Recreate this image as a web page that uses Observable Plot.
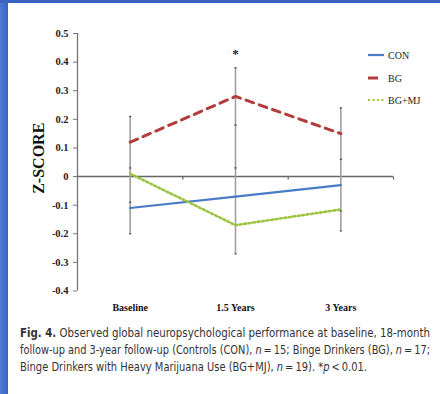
<!DOCTYPE html>
<html>
<head>
<meta charset="utf-8">
<script src="https://cdn.jsdelivr.net/npm/d3@7"></script>
<script src="https://cdn.jsdelivr.net/npm/@observablehq/plot@0.6"></script>
<style>
  html, body { margin: 0; padding: 0; background: #fff; width: 440px; height: 394px; overflow: hidden; }
  #wrap { position: relative; width: 440px; height: 394px; }
  .bar-left { position: absolute; left: 0; top: 0; width: 8px; height: 394px; background: linear-gradient(to right, #4d7bd2, #3962c2); z-index: 5; }
  .bar-top { position: absolute; left: 0; top: 0; width: 440px; height: 3px; background: #3a62c0; z-index: 5; }
  #legend { position: absolute; left: 366px; top: 48px; font-family: "Liberation Serif", "DejaVu Serif", serif; font-size: 10px; color: #222; }
  #legend .row { position: absolute; left: 0; height: 14px; display: flex; align-items: center; white-space: nowrap; }
  #legend svg { display: block; margin-right: 3px; }
  #caption { position: absolute; left: 20px; top: 325px; width: 410px; font-family: "DejaVu Sans Condensed", "DejaVu Sans", "Noto Sans", sans-serif; font-stretch: condensed; font-size: 12px; line-height: 17px; color: #333; }
  #caption .ln { white-space: nowrap; transform-origin: 0 50%; display: inline-block; }
  #caption .row { height: 17px; }
  #chart svg text { font-family: "Liberation Serif", "DejaVu Serif", serif; }
</style>
</head>
<body>
<div id="wrap">
  <div class="bar-left"></div>
  <div class="bar-top"></div>
  <div id="chart"></div>
  <div id="legend"></div>
  <div id="caption">
    <div class="row"><span class="ln" data-w="410"><b>Fig. 4.</b> Observed global neuropsychological performance at baseline, 18-month</span></div>
    <div class="row"><span class="ln" data-w="410">follow-up and 3-year follow-up (Controls (CON), <i>n</i>&#8201;=&#8201;15; Binge Drinkers (BG), <i>n</i>&#8201;=&#8201;17;</span></div>
    <div class="row"><span class="ln" data-w="347">Binge Drinkers with Heavy Marijuana Use (BG+MJ), <i>n</i>&#8201;=&#8201;19). *<i>p</i>&#8201;&lt;&#8201;0.01.</span></div>
  </div>
</div>
<script>
// ---- data ----
const categories = ["Baseline", "1.5 Years", "3 Years"];
const seriesNames = ["CON", "BG", "BG+MJ"];
const conValues = [-0.11, -0.07, -0.03];
const bgValues = [0.12, 0.28, 0.15];
const bgmjValues = [0.01, -0.17, -0.115];
const errTop = [0.21, 0.38, 0.24];
const errBottom = [-0.2, -0.27, -0.19];
const capValues = [
  [0.21, 0.03, -0.09, -0.2],
  [0.38, 0.18, 0.03, -0.27],
  [0.24, 0.06, -0.12, -0.19]
];
const yTicks = [0.5, 0.4, 0.3, 0.2, 0.1, 0, -0.1, -0.2, -0.3, -0.4];
const boundaryTicks = [0.5, 1.5, 2.5];
const significance = [{time: 1, value: 0.43, label: "*"}];
const colors = {"CON": "#4a7cc6", "BG": "#b33b3b", "BG+MJ": "#9cc43e"};

// ---- tables ----
const lineRows = [];
[conValues, bgValues, bgmjValues].forEach((vals, s) =>
  vals.forEach((v, i) => lineRows.push({series: seriesNames[s], time: i, value: v})));
const errRows = categories.map((c, i) => ({time: i, lo: errBottom[i], hi: errTop[i]}));
const capRows = capValues.flatMap((vals, i) => vals.map(v => ({time: i, value: v})));

const capSymbol = {draw(ctx, size) { const r = Math.sqrt(size) / 2; ctx.moveTo(-r, 0); ctx.lineTo(r, 0); }};
const downTick = {draw(ctx, size) { const r = Math.sqrt(size); ctx.moveTo(0, 0); ctx.lineTo(0, r); }};

const serif = '"Liberation Serif", "DejaVu Serif", serif';

const chart = Plot.plot({
  width: 440,
  height: 320,
  marginLeft: 77,
  marginRight: 47,
  marginTop: 33,
  marginBottom: 29.5,
  style: {fontFamily: serif, background: "transparent", overflow: "visible"},
  x: {type: "linear", domain: [-0.5, 2.5]},
  y: {domain: [-0.4, 0.5]},
  marks: [
    Plot.ruleX([-0.5], {stroke: "#777", strokeWidth: 1.3}),
    Plot.ruleY([0], {stroke: "#666", strokeWidth: 1.6}),
    Plot.dot(boundaryTicks, {x: d => d, y: () => 0, symbol: downTick, r: 1.7, stroke: "#666", strokeWidth: 1.2, fill: "none"}),
    Plot.ruleX(errRows, {x: "time", y1: "lo", y2: "hi", stroke: "#a0a0a0", strokeWidth: 1.6}),
    Plot.dot(capRows, {x: "time", y: "value", symbol: capSymbol, r: 1.2, stroke: "#555", strokeWidth: 1.4, fill: "none"}),
    Plot.line(lineRows.filter(d => d.series === "CON"), {x: "time", y: "value", stroke: colors["CON"], strokeWidth: 2.2}),
    Plot.line(lineRows.filter(d => d.series === "BG"), {x: "time", y: "value", stroke: colors["BG"], strokeWidth: 3, strokeDasharray: "8,6", strokeLinejoin: "miter"}),
    Plot.line(lineRows.filter(d => d.series === "BG+MJ"), {x: "time", y: "value", stroke: colors["BG+MJ"], strokeWidth: 2.6, strokeDasharray: "2,2.5"}),
    Plot.text(significance, {x: "time", y: "value", text: "label", fontSize: 13, fontWeight: "bold", fill: "#222"}),
    Plot.axisY({ticks: yTicks, tickFormat: d => d === 0 ? "0" : d.toFixed(1), tickSize: 4, tickPadding: 5, fontSize: 10.5, fontWeight: "bold", fontFamily: serif, label: null, stroke: "#777", color: "#222"}),
    Plot.axisX({ticks: [0, 1, 2], tickFormat: i => categories[i], tickSize: 0, tickPadding: 13, fontSize: 10, fontWeight: "bold", fontFamily: serif, label: null, color: "#111"}),
    Plot.text(["Z-SCORE"], {frameAnchor: "left", text: d => d, rotate: -90, dx: -38.5, dy: -4, fontSize: 16, fontWeight: "bold", fontFamily: serif, fill: "#111", textAnchor: "middle", lineAnchor: "middle", style: {letterSpacing: "1.4px"}})
  ]
});
document.getElementById("chart").appendChild(chart);

// ---- legend ----
const legend = document.getElementById("legend");
const legendTops = [0, 23, 45];
seriesNames.forEach((name, i) => {
  const row = document.createElement("div");
  row.className = "row";
  row.style.top = legendTops[i] + "px";
  const dash = name === "BG" ? "10,20" : name === "BG+MJ" ? "2,2.5" : null;
  const w = name === "BG" ? 3 : 2.2;
  row.innerHTML = `<svg width="19" height="6"><line x1="2" x2="18" y1="3" y2="3" stroke="${colors[name]}" stroke-width="${w}" ${dash ? `stroke-dasharray="${dash}"` : ""}/></svg><span>${name}</span>`;
  legend.appendChild(row);
});

// ---- fit caption lines to the reference widths ----
document.querySelectorAll("#caption .ln").forEach(el => {
  const target = +el.dataset.w;
  const w = el.getBoundingClientRect().width;
  if (w > 0) el.style.transform = `scaleX(${target / w})`;
});
</script>
</body>
</html>
